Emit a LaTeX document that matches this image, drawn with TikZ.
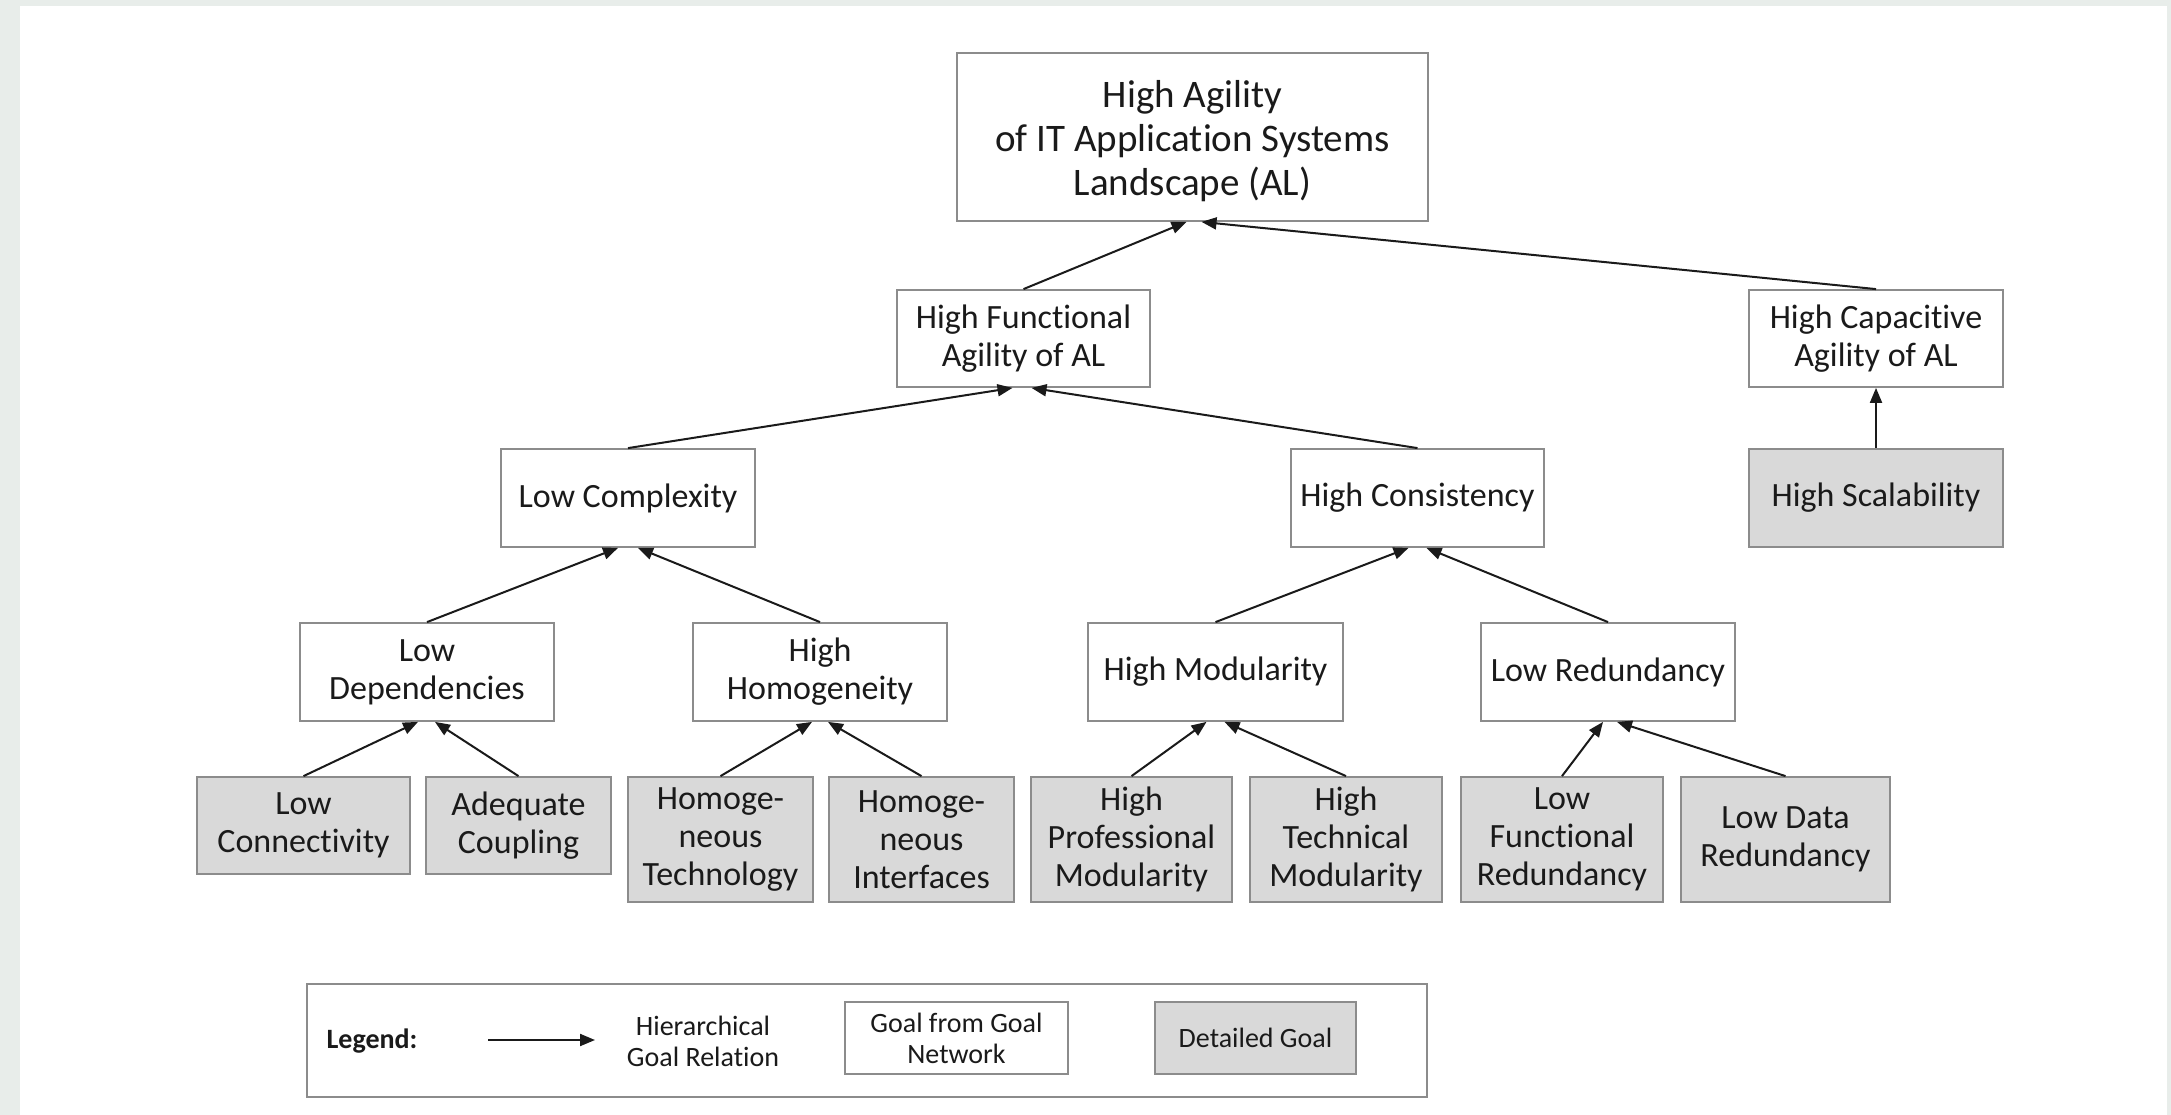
\documentclass[tikz,border=0pt]{standalone}
\usepackage{fontspec}
\setmainfont{Carlito}[RawFeature={-liga;-clig;-calt;-dlig}]
\usetikzlibrary{arrows.meta,calc}
\definecolor{pagebg}{HTML}{E8EDEA}
\definecolor{boxline}{HTML}{8C8C8C}
\definecolor{detailfill}{HTML}{D9D9D9}
\definecolor{ink}{HTML}{1A1A1A}

\begin{document}
\begin{tikzpicture}[x=1pt,y=-1pt,
  goal/.style={draw=boxline, line width=1.8pt, fill=white, inner sep=0pt,
    align=center, text=ink, font=\fontsize{34}{38}\selectfont},
  detail/.style={goal, fill=detailfill},
  rel/.style={draw=ink, line width=2pt, -{Triangle[length=15pt,width=12pt]}},
  legendtext/.style={inner sep=0pt, align=center, text=ink, font=\fontsize{28}{31}\selectfont},
]
\useasboundingbox (0,0) rectangle (2171,1115);
% page and frame
\fill[pagebg] (0,0) rectangle (2171,1115);
\fill[white] (20,6) rectangle (2167,1115);

% goal network
\node[goal, minimum width=471pt, minimum height=168pt, font=\fontsize{39}{44}\selectfont]
  (al) at (1192.5,137) {\rule{0pt}{36pt}High Agility\\of IT Application Systems\\Landscape (AL)};

\node[goal, minimum width=253pt, minimum height=97pt] (func) at (1023.5,338.5) {High Functional\\Agility of AL};
\node[goal, minimum width=254pt, minimum height=97pt] (capa) at (1876,338.5) {High Capacitive\\Agility of AL};

\node[goal, minimum width=254pt, minimum height=98pt] (cplx) at (628,498) {Low Complexity};
\node[goal, minimum width=253pt, minimum height=98pt] (cons) at (1417.5,498) {High Consistency};
\node[detail, minimum width=254pt, minimum height=98pt] (scal) at (1876,498) {High Scalability};

\node[goal, minimum width=254pt, minimum height=98pt] (deps) at (427,672) {Low\\Dependencies};
\node[goal, minimum width=254pt, minimum height=98pt] (homo) at (820,672) {High\\Homogeneity};
\node[goal, minimum width=255pt, minimum height=98pt] (modu) at (1215.5,672) {High Modularity};
\node[goal, minimum width=254pt, minimum height=98pt] (redu) at (1608,672) {Low Redundancy};

\node[detail, minimum width=213pt, minimum height=97pt] (conn) at (303.5,825.5) {Low\\Connectivity};
\node[detail, minimum width=185pt, minimum height=97pt] (coup) at (518.5,825.5) {Adequate\\Coupling};
\node[detail, minimum width=185pt, minimum height=125pt] (tech) at (720.5,839.5) {Homoge-\\neous\\Technology};
\node[detail, minimum width=185pt, minimum height=125pt] (intf) at (921.5,839.5) {Homoge-\\neous\\Interfaces};
\node[detail, minimum width=201pt, minimum height=125pt] (prof) at (1131.5,839.5) {High\\Professional\\Modularity};
\node[detail, minimum width=192pt, minimum height=125pt] (tmod) at (1346,839.5) {High\\Technical\\Modularity};
\node[detail, minimum width=202pt, minimum height=125pt] (fred) at (1562,839.5) {Low\\Functional\\Redundancy};
\node[detail, minimum width=209pt, minimum height=125pt] (dred) at (1785.5,839.5) {Low Data\\Redundancy};

% hierarchical goal relations
\draw[rel] (func.north) -- ($(al.south)+(-6,0)$);
\draw[rel] (capa.north) -- ($(al.south)+(9,0)$);
\draw[rel] (scal.north) -- (capa.south);

\draw[rel] (cplx.north) -- ($(func.south)+(-11,0)$);
\draw[rel] (cons.north) -- ($(func.south)+(8,0)$);

\draw[rel] (deps.north) -- ($(cplx.south)+(-10,0)$);
\draw[rel] (homo.north) -- ($(cplx.south)+(10,0)$);
\draw[rel] (modu.north) -- ($(cons.south)+(-9,0)$);
\draw[rel] (redu.north) -- ($(cons.south)+(9,0)$);

\draw[rel] (conn.north) -- ($(deps.south)+(-9,0)$);
\draw[rel] (coup.north) -- ($(deps.south)+(8,0)$);
\draw[rel] (tech.north) -- ($(homo.south)+(-8,0)$);
\draw[rel] (intf.north) -- ($(homo.south)+(8,0)$);
\draw[rel] (prof.north) -- ($(modu.south)+(-9,0)$);
\draw[rel] (tmod.north) -- ($(modu.south)+(9,0)$);
\draw[rel] (fred.north) -- ($(redu.south)+(-5,0)$);
\draw[rel] (dred.north) -- ($(redu.south)+(9,0)$);

% legend
\node[draw=boxline, line width=1.8pt, minimum width=1120pt, minimum height=113pt, inner sep=0pt]
  (legend) at (867,1040.5) {};
\node[legendtext, font=\fontsize{28}{31}\selectfont\bfseries] (legendlabel) at (372,1041) {Legend:};
\coordinate (relfrom) at (488,1040);
\coordinate (relto) at (595,1040);
\draw[rel] (relfrom) -- (relto);
\node[legendtext] (reltext) at (703,1041) {Hierarchical\\Goal Relation};
\node[goal, minimum width=223pt, minimum height=72pt, font=\fontsize{28}{31}\selectfont]
  (legendgoal) at (956.5,1038) {Goal from Goal\\Network};
\node[detail, minimum width=201pt, minimum height=72pt, font=\fontsize{28}{31}\selectfont]
  (legenddetail) at (1255.5,1038) {Detailed Goal};
\end{tikzpicture}
\end{document}
